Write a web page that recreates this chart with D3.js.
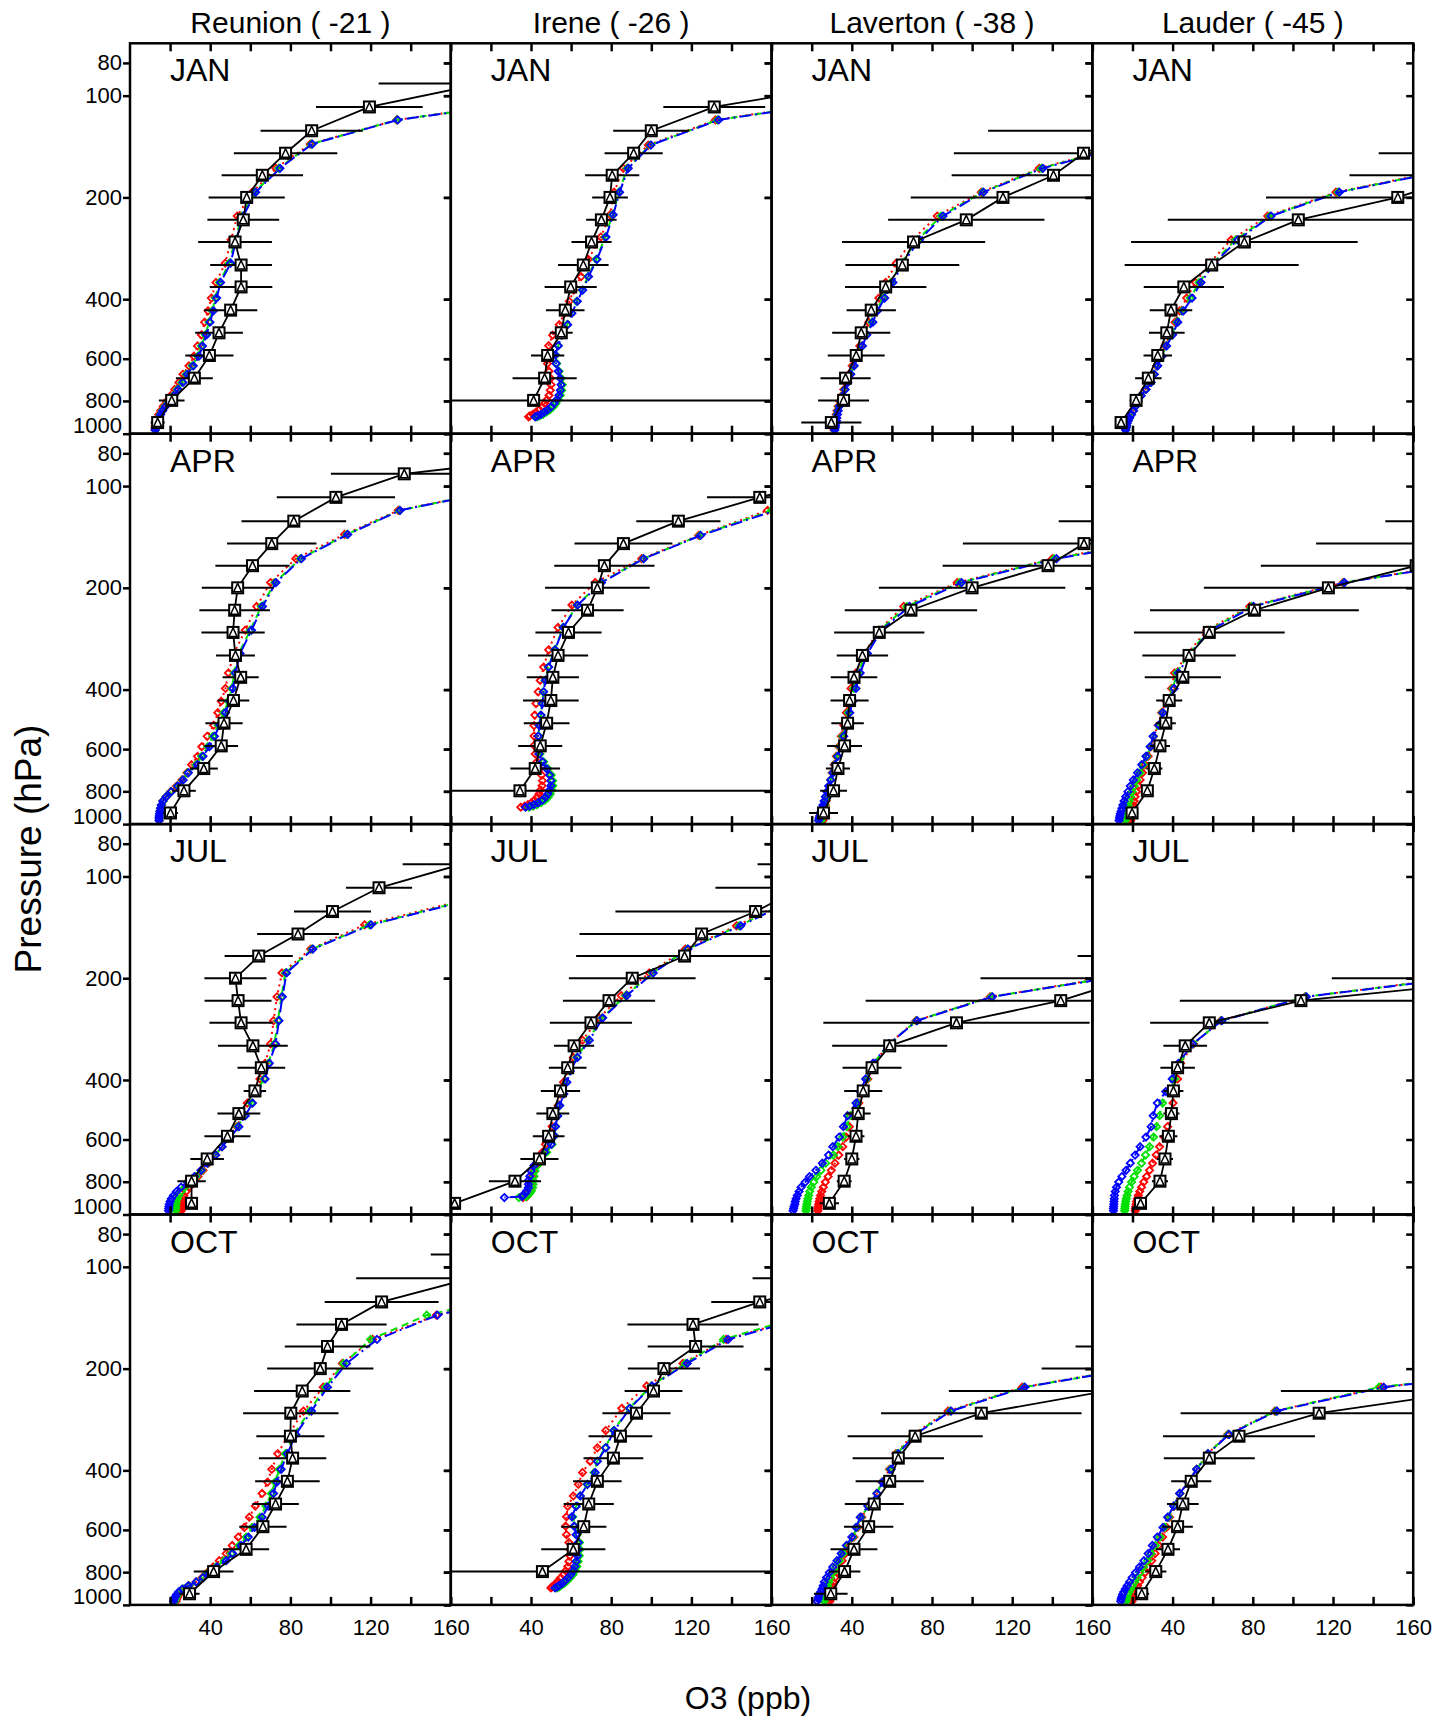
<!DOCTYPE html>
<html>
<head>
<meta charset="utf-8">
<script src="https://cdn.jsdelivr.net/npm/d3@7"></script>
<style>
  body { margin: 0; background: #ffffff; }
  text { font-family: "Liberation Sans", Arial, Helvetica, sans-serif; fill: #000000; }
</style>
</head>
<body>
<div id="canvas"></div>
<script>
"use strict";

/* Categories and tick labels */
let stations = ["Reunion ( -21 )", "Irene ( -26 )", "Laverton ( -38 )", "Lauder ( -45 )"];
let months = ["JAN", "APR", "JUL", "OCT"];
let xTickValues = [20, 40, 60, 80, 100, 120, 140, 160];
let xTickLabels = [40, 80, 120, 160];
let yTickValues = [80, 100, 200, 400, 600, 800, 1000];

/* Pressure levels (hPa) */
let sondeLevels = [79, 92, 108, 127, 148, 172, 200, 233, 271, 317, 368, 431, 503, 587, 685, 797, 927];
let modelLevelsSea = [100, 118, 139, 164, 193, 227, 267, 313, 357, 397, 433, 468, 510, 550, 590,
  630, 667, 705, 740, 772, 802, 830, 855, 878, 898, 916, 932, 947, 960, 975];
let modelLevelsIrene = [100, 118, 140, 164, 193, 225, 262, 305, 343, 376, 406, 440, 476, 511, 549,
  585, 620, 654, 686, 716, 744, 770, 793, 814, 833, 850, 864, 876, 885, 891];

/* Ozonesonde means (ppb), one row per month: JAN, APR, JUL, OCT */
let reunionSonde = [
  [null, 176, 119.4, 90.6, 77.6, 66.0, 58.2, 56.5, 52.4, 55.4, 55.4, 50.2, 44.4, 39.6, 32.1, 20.8, 13.8],
  [235, 136.8, 102.7, 81.7, 70.7, 61.1, 53.7, 52.2, 51.4, 52.6, 55.2, 51.6, 46.9, 45.5, 36.8, 26.9, 20.2],
  [null, 165.5, 124.2, 101, 83.8, 64.2, 52.6, 53.9, 55.4, 61.3, 65.5, 62.3, 54.3, 48.6, 38.5, 30.7, 30.7],
  [null, 200, 170, 125.5, 105.5, 98.5, 94.9, 85.9, 80.2, 80, 81.1, 78.5, 72.6, 66.3, 57.9, 41.7, 29.7]
];
let reunionSondeErr = [
  [null, 52, 26.6, 25.5, 25.8, 20.3, 19, 17.9, 18.4, 15.4, 15.6, 13.3, 11.9, 12, 9.2, 6.4, 3.5],
  [40, 36.6, 29.5, 26.1, 22.3, 18.5, 17.9, 17.6, 15.8, 9.7, 9, 7.9, 9.3, 8.4, 7, 5.9, 3.7],
  [null, 29.5, 16.5, 19.2, 20.4, 17, 15.5, 16.7, 15.8, 17.4, 11.9, 5.6, 10.7, 11.5, 8.4, 7.1, 3],
  [null, 50, 57.2, 28.4, 22.5, 21.3, 26.5, 24, 23.8, 17, 16.8, 16.1, 11.6, 11.8, 11.5, 9.9, 5]
];
let ireneSonde = [
  [null, 201, 131.4, 100, 91.2, 80.5, 79.4, 75.1, 70.2, 66.1, 59.8, 57.1, 55.1, 48.3, 46.8, 41.3, null],
  [null, 200, 154.1, 113.5, 86.1, 76.6, 73.1, 68.2, 58.7, 53.5, 50.9, 49.9, 47.8, 44.6, 42.1, 34.5, null],
  [null, 200, 175, 152, 125.1, 116.6, 90.5, 78.9, 69.9, 61.5, 58.3, 54.7, 50.9, 48.8, 44.2, 32, 1.9],
  [null, 230, 200, 154.1, 120.8, 122.1, 106.3, 101.1, 92.6, 84.6, 81.1, 73.1, 68.8, 66.3, 61.1, 45.7, null]
];
let ireneSondeErr = [
  [null, 30, 25.4, 19, 14.5, 13.5, 8.9, 7.6, 10, 12.6, 13, 9.6, 5.7, 8.3, 16, 150, null],
  [null, 30, 26.3, 21, 24.4, 25, 26.1, 18, 16.5, 15, 13, 13.9, 11.4, 11, 12.4, 150, null],
  [null, 47, 43, 69.9, 60.9, 54.1, 31.6, 23, 20.5, 10, 9.4, 9.8, 8.2, 7.9, 9.5, 13, 1],
  [null, 40, 49.5, 24.2, 32.7, 23.9, 18, 14.4, 17, 15.9, 14.9, 12.1, 12.5, 11.3, 16, 150, null]
];
let lavertonSonde = [
  [null, 210, 190, 185, 155.6, 140.6, 115.4, 97.1, 70.8, 65.2, 56.9, 49.7, 44.7, 42.2, 36.9, 35.9, 29.8],
  [null, 220, 200, 175, 155.8, 137.9, 100, 69.5, 53.7, 45.3, 41.1, 38.9, 37.9, 36.4, 33.1, 30.9, 25.9],
  [null, 270, 260, 250, 240, 215, 180, 144.2, 92.2, 58.9, 50.1, 45.7, 43.2, 42.1, 40, 36.2, 28.8],
  [null, 270, 260, 250, 250, 250, 210, 167, 104.6, 71.6, 63.2, 58.9, 51.2, 48.4, 41.1, 36.4, 29.5]
];
let lavertonSondeErr = [
  [null, 25, 25, 77, 64.7, 50.8, 46, 39, 35.7, 28.4, 20.3, 12.3, 14.5, 14.2, 12.5, 12.7, 15],
  [null, 30, 30, 31.8, 60.4, 52.6, 46.5, 33, 22.5, 12.8, 11.6, 9.5, 8.1, 8.7, 6, 6.7, 7.2],
  [null, 40, 40, 40, 40, 62.4, 75.8, 97.3, 66.4, 28.7, 14.7, 9.5, 6.2, 4.2, 3.8, 3.7, 4.8],
  [null, 40, 40, 40, 40, 98.4, 75.3, 78.6, 50, 33.7, 22.8, 17, 14.7, 12.3, 11.7, 7.9, 8.4]
];
let lauderSonde = [
  [null, 260, 240, 220, 200, 185, 152.3, 102.7, 75.8, 59.5, 45.6, 39.2, 37.1, 32.6, 27.9, 21.8, 14.3],
  [null, 280, 260, 230, 200, 161.5, 117.7, 80.8, 58.3, 48.2, 45.1, 38.3, 36.6, 33.7, 30.9, 27.4, 19.8],
  [null, 290, 280, 270, 260, 240, 213, 104, 58.3, 46.3, 42.5, 40.4, 39.4, 37.9, 36.2, 33.7, 24],
  [null, 290, 280, 270, 250, 220, 200, 189, 113.1, 73.1, 58.3, 49.3, 45.1, 42.5, 37.7, 31.6, 24.6]
];
let lauderSondeErr = [
  [null, 40, 40, 60, 57.2, 56.8, 65.7, 65.1, 56.5, 43.4, 20, 10.6, 8.9, 7.1, 6.6, 3.2, 2],
  [null, 40, 40, 83.9, 88.4, 77.5, 62.1, 52.1, 37.6, 23.3, 19, 6.5, 5, 5, 4, 3, 3],
  [null, 40, 40, 40, 40, 40, 93.6, 60.4, 29.5, 10.9, 8.6, 5, 4, 4.5, 4, 4, 3],
  [null, 40, 40, 40, 40, 40, 40, 95, 69.1, 37.9, 22.7, 10, 7.9, 7.6, 6, 5.3, 3.7]
];

/* Model profiles (ppb): red, green and blue runs, one row per month */
let reunionRed = [
  [218, 133, 89.9, 72.8, 61.0, 53.5, 50.4, 47.5, 42.9, 40.6, 38.9, 37.2, 35.6, 33.7, 31.9, 29.4, 26.4, 24.4, 22.3, 20.3, 18.3, 16.6, 15.3, 14.3, 13.6, 13.1, 12.8, 12.6, 12.5, 12.5],
  [193, 133.8, 107, 82.7, 70.1, 63.2, 57.5, 51.8, 49.1, 47.6, 45.5, 43.8, 41.7, 38.5, 35.8, 33.7, 30.7, 28.4, 25.9, 23.2, 20.2, 18.1, 16.4, 15.8, 15.4, 15.1, 14.9, 14.8, 14.7, 14.7],
  [228, 165, 117, 90.1, 75.8, 73.3, 71.6, 70.1, 67.4, 64.8, 61.7, 58.5, 56, 53.3, 49.7, 45.9, 42.7, 39.2, 36.4, 33.9, 31.6, 29.5, 28, 26.9, 26.5, 26.1, 25.9, 25.8, 25.7, 25.6],
  [258, 202, 152.8, 121, 105.9, 96.4, 86.5, 79.2, 73.7, 70.7, 68.6, 65.9, 62.5, 59.5, 57, 54, 51, 48, 44.5, 41.5, 38.5, 36, 33, 29.5, 27, 25.5, 24.5, 23.8, 23.3, 23]
];
let reunionGreen = [
  [219, 133.2, 90.5, 74.2, 62.2, 55.8, 52.4, 49.5, 44.6, 42.6, 41, 39.4, 37.6, 35.6, 33.8, 31, 28, 25.9, 23.6, 21.5, 19.2, 17.4, 16, 15, 14.2, 13.6, 13.1, 12.8, 12.7, 12.6],
  [194, 134.5, 108.2, 85, 72.3, 65.5, 60, 54.2, 52, 50.8, 49, 46.8, 44, 41.3, 38.8, 35.7, 33, 28.8, 26.3, 23.6, 20.5, 18.1, 16.5, 15.7, 15.3, 15, 14.8, 14.7, 14.6, 14.6],
  [229, 167, 119.5, 90.8, 77.5, 75.5, 73.8, 72, 69, 66.8, 63.2, 60.5, 57, 53.8, 49.9, 45.8, 42.6, 38.8, 35.8, 33, 30, 27.4, 25.6, 24.3, 23.6, 23.1, 22.9, 22.8, 22.7, 22.7],
  [255, 200, 148, 120, 106.5, 97.5, 89.5, 81.8, 77.5, 74.5, 72.3, 70.5, 67.8, 64.8, 61, 58, 54.5, 50.5, 47, 42.8, 39, 36.5, 33.2, 29.3, 26.5, 24.8, 23.8, 23.1, 22.6, 22.3]
];
let reunionBlue = [
  [220, 133.5, 90.9, 74.8, 62.7, 56.5, 52.9, 50.2, 45.2, 43.2, 41.6, 39.9, 38.2, 36.2, 34.4, 31.6, 28.6, 26.4, 24.1, 21.9, 19.6, 17.8, 16.3, 15.3, 14.5, 13.8, 13.3, 13.0, 12.8, 12.6],
  [194, 134.7, 108.6, 85.5, 72.8, 66.1, 60.6, 54.9, 52.6, 51.4, 49.7, 47.6, 44.8, 42.1, 39.6, 36.4, 33.7, 29.1, 26.5, 23.8, 20.6, 18.1, 16.4, 15.6, 15.2, 14.9, 14.7, 14.6, 14.5, 14.5],
  [230, 168, 120.2, 91.2, 78.1, 76, 74.3, 72.6, 69.5, 67.4, 63.8, 61.1, 57.5, 54.3, 50.1, 45.9, 42.7, 38.5, 35.4, 32.2, 28.6, 25.5, 23.2, 21.7, 20.6, 20, 19.6, 19.4, 19.3, 19.2],
  [260, 204, 153.3, 123.2, 108, 98.5, 90.5, 82.7, 78.5, 75.4, 73.3, 71.6, 69, 65.9, 62.1, 59, 55.4, 51.2, 48, 43.4, 39.5, 36.5, 33, 29, 26, 24.2, 23.2, 22.5, 22, 21.7]
];
let ireneRed = [
  [213, 132, 98.5, 86, 81.5, 79.5, 74.8, 68.6, 65, 61.3, 59.1, 56.6, 54.1, 50.8, 48.8, 47.8, 48.2, 49, 49.8, 50, 49.6, 49, 48, 46.8, 45.6, 44, 42.5, 41, 39.5, 38.8],
  [218, 158, 123.6, 95.2, 72, 60.4, 53.5, 48.8, 46.3, 44.6, 43.6, 42.5, 41.9, 41.5, 41.5, 41.5, 42.1, 43, 44.2, 45.3, 45.7, 45.5, 44.8, 44, 43, 41.7, 40.2, 38.5, 36.8, 34.9],
  [218, 168, 142.5, 117, 99, 85, 74.1, 65.7, 61.1, 57.7, 56.2, 54.7, 53.5, 52, 50.5, 48.8, 47.2, 45.7, 44.2, 42.5, 41.5, 40.8, 40.4, 40, 39.6, 39.2, 38.7, 38.3, 37.9, 36],
  [278, 228, 177, 137.3, 115.8, 97.7, 85.3, 77.3, 73.1, 69.5, 65.7, 63.6, 61.1, 58.3, 57.7, 57.3, 57.7, 58.9, 59.4, 59.4, 58.9, 58.3, 57.3, 56.2, 54.7, 53.5, 52.4, 51.4, 50.5, 49.9]
];
let ireneGreen = [
  [214, 133, 99.5, 88, 83.8, 80.6, 77, 72.5, 68.4, 65.5, 62.8, 60.2, 58, 55.2, 53.6, 52.3, 52.8, 54, 55.1, 55.6, 55.3, 54.6, 53.6, 52.4, 51, 49.4, 47.7, 46, 44.3, 43],
  [219, 160, 124.2, 96, 74.8, 63, 56, 51.8, 48.6, 47, 46.1, 45.5, 44.9, 44.2, 43.8, 43.9, 44.5, 46.3, 48.5, 50.1, 50.8, 50.9, 50.4, 49.6, 48.5, 47, 45, 43, 41, 39],
  [219, 169, 143.8, 118, 100.5, 87.2, 75.5, 68.5, 62.8, 59.3, 57.6, 56.1, 54.2, 53.2, 52.2, 51.7, 50.5, 47.8, 45.5, 43.2, 42, 41.5, 41, 41, 40.8, 40.2, 39.5, 38.4, 37.6, 34],
  [276, 226, 175, 136, 117, 100, 89, 81.2, 77, 73, 71.5, 68, 64.5, 62.5, 60.8, 61.8, 63, 64.2, 64.4, 64.1, 63.5, 62.9, 62.1, 60.9, 59.4, 57.9, 56.6, 55.1, 54.1, 53]
];
let ireneBlue = [
  [215, 133.6, 99.8, 88.5, 84.2, 81.0, 77.4, 72.9, 68.7, 65.8, 63.1, 60.4, 58.3, 55.4, 53.6, 52.1, 52.5, 53.6, 54.6, 55, 54.6, 53.9, 52.8, 51.5, 50, 48.3, 46.6, 45, 43.3, 42.1],
  [220, 162, 124.6, 96.2, 75.2, 63.2, 56.2, 52, 48.8, 47.2, 46.3, 45.7, 45, 44.2, 43.6, 43.6, 44, 45.7, 47.8, 49.3, 49.9, 49.9, 49.3, 48.4, 47.2, 45.7, 43.6, 41.5, 39.4, 37.3],
  [220, 170, 144.6, 118.3, 101, 87.8, 75.8, 69.1, 63.2, 59.6, 57.9, 56.4, 54.3, 53.3, 52.2, 51.6, 50.1, 46.9, 44.2, 41.5, 40, 39.4, 38.7, 38.7, 38.7, 37.9, 37.3, 36, 35.6, 26.7],
  [280, 230, 179, 138.3, 117.9, 100.4, 89.3, 81.5, 77.3, 73.1, 72, 68.2, 64.6, 62.5, 60.4, 61.5, 62.5, 63.6, 63.6, 63.2, 62.5, 61.9, 61.1, 59.8, 58.3, 56.8, 55.6, 54.1, 53.1, 52]
];
let lavertonRed = [
  [298, 238, 178, 133.5, 104.6, 82.6, 70.2, 62.2, 56.9, 53.5, 50.5, 48.5, 46, 44, 42, 40.2, 38.6, 37.2, 36, 35, 34, 33.2, 32.6, 32.2, 31.9, 31.7, 31.5, 31.3, 31.2, 31.1],
  [298, 258, 208, 140, 92.6, 65.9, 53.3, 46.3, 42.1, 39.6, 38.5, 37.3, 36, 34.8, 33.5, 32.3, 31.2, 30.2, 29.4, 28.7, 28.1, 27.6, 27.2, 26.8, 26.5, 26.2, 26, 25.8, 25.7, 25.6],
  [328, 298, 268, 228, 182, 109, 72, 58.5, 51, 48, 45.5, 43.5, 40.5, 38.8, 37.2, 35.5, 33.5, 31.6, 29.8, 28.2, 26.8, 25.8, 25, 24.4, 24, 23.7, 23.5, 23.3, 23.2, 23.1],
  [348, 318, 288, 248, 193, 125, 88, 70.5, 62, 58.8, 55, 52.5, 48.5, 45, 43, 41, 38.8, 36.8, 35.2, 33.8, 32.6, 31.6, 30.9, 30.4, 30.1, 29.8, 29.6, 29.4, 29.3, 29.1]
];
let lavertonGreen = [
  [299, 239, 179, 134.5, 105.2, 84.5, 72.8, 64.5, 59.5, 55.6, 52.2, 50, 47.2, 45, 43, 41, 39.3, 37.8, 36.5, 35.4, 34.4, 33.6, 33, 32.6, 32.3, 32.1, 31.9, 31.7, 31.6, 31.5],
  [299, 259, 209, 141, 93.8, 67.5, 54, 47, 43.2, 41, 39.4, 38.2, 36.8, 35.4, 34, 32.7, 31.6, 30.5, 29.5, 28.7, 28, 27.4, 26.9, 26.4, 26, 25.7, 25.4, 25.1, 24.9, 24.7],
  [329, 299, 269, 229, 183, 109.5, 72.3, 58.5, 50.8, 47.5, 44.8, 42.8, 39.2, 37.5, 35.5, 33, 30.8, 27, 24.6, 22.5, 21, 19.8, 19, 18.5, 18.1, 17.8, 17.6, 17.4, 17.3, 17.2],
  [349, 319, 289, 249, 194, 126, 89, 71, 62.6, 59.2, 55.2, 52.5, 48.2, 44.6, 42.5, 40.5, 38, 35.7, 33.8, 32, 30.6, 29.4, 28.5, 27.9, 27.4, 27, 26.7, 26.5, 26.3, 26.2]
];
let lavertonBlue = [
  [300, 240, 180, 135.3, 105.7, 85.5, 73.8, 65.5, 60.5, 56.4, 52.8, 50.5, 47.5, 45.3, 43.2, 41.2, 39.5, 38, 36.7, 35.6, 34.6, 33.8, 33.2, 32.8, 32.5, 32.3, 32.1, 31.9, 31.7, 31.5],
  [300, 260, 210, 142.1, 94.7, 68.8, 54.7, 47.8, 44.2, 42.1, 40.5, 39, 37.5, 36, 34.5, 33, 31.8, 30.6, 29.5, 28.5, 27.6, 26.8, 26.2, 25.6, 25.1, 24.7, 24.3, 24, 23.7, 23.4],
  [330, 300, 270, 230, 184, 110.1, 72.6, 58.5, 50.5, 46.9, 44.2, 42.1, 37.9, 35.8, 33.7, 30.5, 28.4, 25.3, 22.1, 18.9, 16.8, 14.7, 13.7, 12.8, 12.2, 11.8, 11.6, 11.2, 11, 10.7],
  [350, 320, 290, 250, 195, 126.3, 89.5, 71.6, 63.2, 59.6, 55.4, 52.6, 48, 44.2, 42.1, 40, 37.3, 34.7, 32.6, 30.5, 28.8, 27.4, 26.3, 25.7, 25.1, 24.4, 23.8, 23.4, 23.2, 22.7]
];
let lauderRed = [
  [328, 288, 238, 180, 121.5, 87.4, 69.2, 58.4, 51.4, 47, 43.5, 41.2, 38.8, 36.2, 34, 32, 30.3, 28.6, 26.3, 24, 22.4, 21.3, 20.3, 19.3, 18.4, 17.7, 17.2, 16.9, 16.7, 16.5],
  [328, 298, 258, 198, 125, 78.5, 57, 47.5, 41, 39.5, 36.8, 34.5, 32.8, 30.5, 29.3, 27.8, 26.3, 25, 23.8, 22.8, 22, 21.3, 20.8, 20.3, 20, 19.7, 19.5, 19.3, 19.2, 19.1],
  [338, 298, 258, 228, 200, 106, 64, 50.5, 44, 42.5, 41.5, 40.2, 39, 37.5, 35.8, 33.5, 31.8, 30, 28.5, 27, 25.6, 24.5, 23.6, 22.9, 22.4, 22, 21.8, 21.6, 21.5, 21.4],
  [368, 348, 328, 298, 248, 144, 91, 67.5, 57.5, 52, 47.8, 43.7, 40.8, 38.5, 37, 35, 33, 31.3, 29.6, 27.9, 26.3, 24.8, 23.5, 22.5, 21.6, 20.9, 20.4, 20.1, 19.9, 19.8]
];
let lauderGreen = [
  [329, 289, 239, 181, 122.5, 88.5, 71.5, 60, 53.2, 48.8, 44.8, 42.1, 39.6, 36.7, 34.5, 32.4, 30.7, 29.1, 26.6, 24.2, 22.5, 21.4, 20.4, 19.4, 18.5, 17.8, 17.3, 17, 16.8, 16.6],
  [329, 299, 259, 199, 125.4, 79.5, 58, 48.2, 42, 40.2, 37.4, 34.9, 33, 30.4, 29, 27.2, 25.4, 23.7, 22, 20.8, 19.8, 19, 18.3, 17.8, 17.4, 17.1, 16.8, 16.6, 16.5, 16.4],
  [339, 299, 259, 229, 201, 106.3, 64.3, 50.2, 43.5, 41, 38.5, 35, 33.5, 32, 30.5, 28.5, 26.5, 24.5, 22.5, 20.8, 19.5, 18.5, 17.8, 17.3, 16.9, 16.6, 16.4, 16.3, 16.2, 16.1],
  [369, 349, 329, 299, 249, 143, 91.5, 67.8, 57.6, 52, 47.8, 43.6, 40.6, 38, 36, 33.7, 31.4, 29.2, 27.5, 25.5, 23.8, 22.3, 21, 19.9, 19, 18.2, 17.6, 17.2, 17, 16.8]
];
let lauderBlue = [
  [330, 290, 240, 181.7, 123.2, 89.1, 72.5, 60.8, 54.2, 49.7, 45.4, 42.6, 40, 37, 34.7, 32.6, 30.9, 29.3, 26.8, 24.3, 22.6, 21.5, 20.5, 19.5, 18.5, 17.8, 17.3, 17, 16.8, 16.6],
  [330, 300, 260, 200, 125.7, 80.4, 58.9, 48.8, 42.9, 40.8, 37.9, 35.2, 33.1, 30.3, 28.8, 26.7, 24.6, 22.5, 20.4, 18.9, 17.7, 16.6, 15.8, 15.2, 14.7, 14.3, 13.9, 13.7, 13.5, 13.3],
  [340, 300, 260, 230, 202, 106.7, 64.6, 49.9, 42.9, 39.8, 36.6, 32.4, 30.3, 29.3, 26.7, 23.8, 21.3, 18.9, 16.8, 14.7, 13.1, 12, 11.4, 11, 10.9, 10.8, 10.7, 10.6, 10.5, 10.5],
  [370, 350, 330, 300, 250, 145.3, 92, 68.2, 57.7, 52, 47.8, 43.5, 40.5, 37.5, 35.2, 32.4, 29.9, 27.8, 25.7, 23.5, 21.5, 19.8, 18.5, 17.3, 16.4, 15.6, 15, 14.6, 14.3, 14.1]
];

/* Configuration variables: drawing */
let svgWidth = 1453;
let svgHeight = 1718;
let plotLeft = 130;
let plotTop = 43.3;
let panelWidth = 320.8;
let panelHeight = 390.4;

let stationData = [
  { sonde: reunionSonde, err: reunionSondeErr, red: reunionRed, green: reunionGreen, blue: reunionBlue, levels: modelLevelsSea },
  { sonde: ireneSonde, err: ireneSondeErr, red: ireneRed, green: ireneGreen, blue: ireneBlue, levels: modelLevelsIrene },
  { sonde: lavertonSonde, err: lavertonSondeErr, red: lavertonRed, green: lavertonGreen, blue: lavertonBlue, levels: modelLevelsSea },
  { sonde: lauderSonde, err: lauderSondeErr, red: lauderRed, green: lauderGreen, blue: lauderBlue, levels: modelLevelsSea }
];

let modelStyles = [
  { key: "red", color: "#ff0000", dash: "2,4" },
  { key: "green", color: "#00e000", dash: "7,5" },
  { key: "blue", color: "#0000ff", dash: "12,4,2,4" }
];

/* Create drawing canvas */
let svg = d3.select("#canvas")
  .append("svg")
  .attr("width", svgWidth)
  .attr("height", svgHeight);

svg.append("rect")
  .attr("width", svgWidth)
  .attr("height", svgHeight)
  .attr("fill", "white");

let xScale = d3.scaleLinear().domain([0, 160]).range([0, panelWidth]);
let yScale = d3.scaleLog().domain([70, 1000]).range([0, panelHeight]);

let modelLine = d3.line()
  .defined(function (d) { return d.v !== null; })
  .x(function (d) { return xScale(d.v); })
  .y(function (d) { return yScale(d.p); });

function diamondPath(r) {
  return "M0," + (-r) + "L" + r + ",0L0," + r + "L" + (-r) + ",0Z";
}

/* Draw one panel: station column c, month row r */
function drawPanel(c, r) {
  let st = stationData[c];
  let g = svg.append("g")
    .attr("transform", "translate(" + (plotLeft + c * panelWidth) + "," + (plotTop + r * panelHeight) + ")");

  let clipId = "clip-" + r + "-" + c;
  g.append("clipPath").attr("id", clipId)
    .append("rect")
    .attr("width", panelWidth)
    .attr("height", panelHeight);

  let inner = g.append("g").attr("clip-path", "url(#" + clipId + ")");

  /* model profiles */
  modelStyles.forEach(function (s) {
    let pts = st.levels.map(function (p, i) { return { p: p, v: st[s.key][r][i] }; });
    inner.append("path")
      .datum(pts)
      .attr("fill", "none")
      .attr("stroke", s.color)
      .attr("stroke-width", 2)
      .attr("stroke-dasharray", s.dash)
      .attr("d", modelLine);
    inner.selectAll(null)
      .data(pts.filter(function (d) { return d.v !== null; }))
      .enter()
      .append("path")
      .attr("d", diamondPath(3.6))
      .attr("transform", function (d) { return "translate(" + xScale(d.v) + "," + yScale(d.p) + ")"; })
      .attr("fill", "none")
      .attr("stroke", s.color)
      .attr("stroke-width", 1.8);
  });

  /* sonde mean with error bars */
  let sondePts = sondeLevels.map(function (p, i) {
    return { p: p, v: st.sonde[r][i], e: st.err[r][i] };
  }).filter(function (d) { return d.v !== null; });

  inner.selectAll(null)
    .data(sondePts)
    .enter()
    .append("line")
    .attr("x1", function (d) { return xScale(d.v - d.e); })
    .attr("x2", function (d) { return xScale(d.v + d.e); })
    .attr("y1", function (d) { return yScale(d.p); })
    .attr("y2", function (d) { return yScale(d.p); })
    .attr("stroke", "black")
    .attr("stroke-width", 2);

  inner.append("path")
    .datum(sondePts)
    .attr("fill", "none")
    .attr("stroke", "black")
    .attr("stroke-width", 1.8)
    .attr("d", modelLine);

  let marks = inner.selectAll(null)
    .data(sondePts)
    .enter()
    .append("g")
    .attr("transform", function (d) { return "translate(" + xScale(d.v) + "," + yScale(d.p) + ")"; });
  marks.append("rect")
    .attr("x", -5.5).attr("y", -5.5)
    .attr("width", 11).attr("height", 11)
    .attr("fill", "white")
    .attr("stroke", "black")
    .attr("stroke-width", 2);
  marks.append("path")
    .attr("d", "M0,-4.5L4,4L-4,4Z")
    .attr("fill", "none")
    .attr("stroke", "black")
    .attr("stroke-width", 1.5);

  /* axes: x ticks inward on top and bottom */
  let topAxis = g.append("g")
    .call(d3.axisTop(xScale).tickValues(xTickValues).tickSize(-8).tickFormat(""));
  let bottomAxis = g.append("g")
    .attr("transform", "translate(0," + panelHeight + ")")
    .call(d3.axisBottom(xScale).tickValues(xTickValues).tickSize(-8).tickPadding(14)
      .tickFormat(function (d) {
        return (r === 3 && xTickLabels.indexOf(d) >= 0) ? String(d) : "";
      }));

  /* y ticks: left side outward, right side inward */
  let leftAxis = g.append("g")
    .call(d3.axisLeft(yScale).tickValues(yTickValues).tickSize(7).tickPadding(1)
      .tickFormat(function (d) { return c === 0 ? String(d) : ""; }));
  let rightAxis = g.append("g")
    .attr("transform", "translate(" + panelWidth + ",0)")
    .call(d3.axisRight(yScale).tickValues(yTickValues).tickSize(-7).tickFormat(""));

  [topAxis, bottomAxis, leftAxis, rightAxis].forEach(function (ax) {
    ax.select(".domain").remove();
    ax.selectAll(".tick line").attr("stroke", "black").attr("stroke-width", 2.5);
    ax.selectAll(".tick text")
      .attr("font-family", "Liberation Sans, Arial, sans-serif")
      .attr("font-size", "22px")
      .attr("fill", "black");
  });

  /* lift the 1000 label so it clears the frame */
  leftAxis.selectAll(".tick")
    .filter(function (d) { return d === 1000; })
    .select("text")
    .attr("y", -8);

  /* panel frame */
  g.append("rect")
    .attr("width", panelWidth)
    .attr("height", panelHeight)
    .attr("fill", "none")
    .attr("stroke", "black")
    .attr("stroke-width", 2.5);

  /* month label */
  g.append("text")
    .attr("x", 40)
    .attr("y", 38)
    .attr("font-size", "32px")
    .text(months[r]);
}

for (let r = 0; r < months.length; r = r + 1) {
  for (let c = 0; c < stations.length; c = c + 1) {
    drawPanel(c, r);
  }
}

/* column titles */
stations.forEach(function (name, c) {
  svg.append("text")
    .attr("x", plotLeft + c * panelWidth + panelWidth / 2)
    .attr("y", 33)
    .attr("text-anchor", "middle")
    .attr("font-size", "30px")
    .text(name);
});

/* axis titles */
svg.append("text")
  .attr("x", 748)
  .attr("y", 1709)
  .attr("text-anchor", "middle")
  .attr("font-size", "32px")
  .text("O3 (ppb)");

svg.append("text")
  .attr("transform", "translate(41,849) rotate(-90)")
  .attr("text-anchor", "middle")
  .attr("font-size", "37px")
  .text("Pressure (hPa)");
</script>
</body>
</html>
